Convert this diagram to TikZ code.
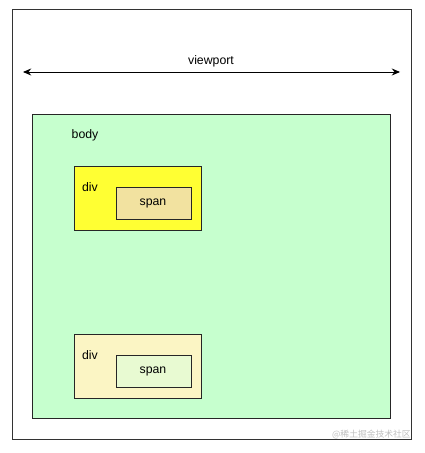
\documentclass[tikz,border=0pt]{standalone}
\usepackage{fontspec}
\setmainfont{Liberation Sans}
\newfontfamily\cjkfont{Noto Sans CJK SC}
\usetikzlibrary{arrows.meta}
\definecolor{bodygreen}{HTML}{C6FFCE}
\definecolor{divyellow}{HTML}{FFFF33}
\definecolor{spantan}{HTML}{F2E2A0}
\definecolor{divpale}{HTML}{FBF5C4}
\definecolor{spanpale}{HTML}{E8FAD2}
\tikzset{
  box/.style={draw=black!85, line width=0.8pt},
  lbl/.style={font=\fontsize{10.5}{12}\selectfont, inner sep=0pt}
}
\begin{document}
\begin{tikzpicture}[x=0.03cm, y=-0.03cm]
\useasboundingbox (0,0) rectangle (424,453);
\draw[black!80, line width=0.8pt] (12,9) rectangle (411,439);
\coordinate (vl) at (23,72);
\coordinate (vr) at (400,72);
\draw[line width=0.8pt, {Stealth[length=7pt,width=6pt]}-{Stealth[length=7pt,width=6pt]}] (vl) -- (vr);
\node[lbl] (viewport) at (211,61) {viewport};
\draw[box, fill=bodygreen] (32,114) rectangle (390,418);
\node[lbl] (body) at (85,135) {body};
% first div
\draw[box, fill=divyellow] (74,166) rectangle (201,230);
\node[lbl] (div1) at (90,187) {div};
\draw[box, fill=spantan] (116,187) rectangle (191,219);
\node[lbl] (span1) at (153,203) {span};
% second div
\draw[box, fill=divpale] (74,334) rectangle (201,398);
\node[lbl] (div2) at (90,355) {div};
\draw[box, fill=spanpale] (116,355) rectangle (191,387);
\node[lbl] (span2) at (153,371) {span};
\node[font=\cjkfont\fontsize{7.5}{9}\selectfont, text=black!25, anchor=east, inner sep=0pt] (mark) at (411,435) {@稀土掘金技术社区};
\end{tikzpicture}
\end{document}
